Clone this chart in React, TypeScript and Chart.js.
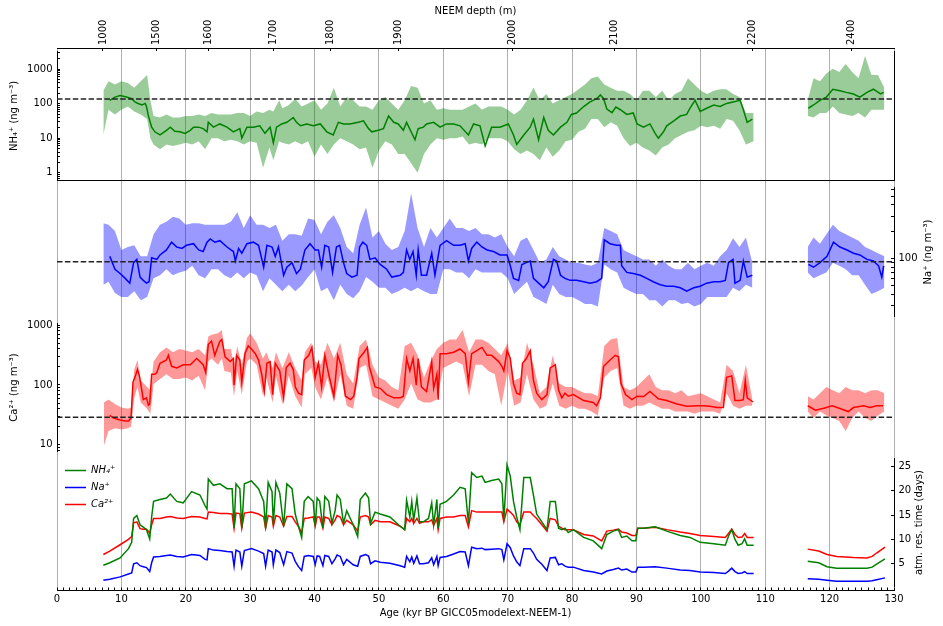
import React, { useEffect, useRef } from "react";
import { Chart, registerables } from "chart.js";

Chart.register(...registerables);

const FONT = '"DejaVu Sans", sans-serif';
Chart.defaults.font.family = FONT;
Chart.defaults.font.size = 10;
Chart.defaults.color = "#000";

// ---------------- axis labels ----------------
const ageMajorTicks = [0, 10, 20, 30, 40, 50, 60, 70, 80, 90, 100, 110, 120, 130];
const depthLabels = ["1000", "1500", "1600", "1700", "1800", "1900", "2000", "2100", "2200", "2400"];
const depthAges = [7.14, 15.49, 23.56, 33.6, 42.51, 53.01, 70.67, 86.6, 108.06, 123.44];
const resTicks = [5, 10, 15, 20, 25];

// ---------------- means (dashed lines) ----------------
const meanNH4 = 137;
const meanNa = 92;
const meanCa = 29;

// ---------------- NH4+ ----------------
const nh4Ages = [
  8.2, 9.0, 9.8, 10.8, 11.6, 12.1, 12.6, 13.2, 13.7, 13.9,
  14.2, 14.7, 15.2, 16.0, 17.0, 17.6, 18.3, 19.1, 19.9, 20.7,
  21.2, 22.0, 22.7, 23.3, 23.5, 24.3, 25.3, 26.4, 27.4, 28.4,
  28.7, 29.5, 30.5, 31.5, 32.3, 33.1, 33.6, 34.1, 34.9, 35.7,
  36.7, 37.2, 37.8, 38.8, 39.8, 40.9, 41.9, 42.9, 43.7, 44.5,
  45.5, 46.8, 47.6, 48.4, 48.9, 49.9, 50.7, 51.5, 52.3, 53.0,
  53.8, 54.3, 55.6, 56.1, 56.9, 57.4, 58.5, 59.5, 60.5, 61.6,
  62.6, 63.9, 64.7, 65.7, 66.5, 67.5, 68.8, 70.1, 70.9, 71.4,
  72.5, 73.5, 74.0, 74.8, 75.6, 76.3, 77.1, 78.2, 79.2, 79.9,
  80.7, 81.8, 82.8, 83.8, 84.4, 84.9, 85.4, 86.2, 86.8, 87.5,
  88.5, 89.5, 90.1, 91.1, 92.1, 92.9, 93.4, 94.2, 94.7, 95.8,
  96.8, 97.8, 98.3, 99.1, 99.9, 100.9, 102.0, 103.0, 104.0, 105.0,
  106.1, 106.6, 107.2, 108.0, 112, 116.7, 117.5, 118.5, 119.5, 120.5,
  121.6, 122.6, 123.7, 124.7, 125.8, 126.8, 127.9, 128.4,
];
const nh4Line = [
  126, 156, 173, 156, 140, 113, 102, 92, 102, 83,
  44, 21, 15.4, 12.5, 17, 21, 16, 15.4, 13.9, 17,
  21, 21, 19, 15.4, 29, 21, 26, 21, 15.4, 19,
  10.1, 21, 21, 23, 13.9, 21, 7.4, 21, 26, 29,
  40, 29, 23, 26, 23, 26, 15.4, 12.5, 29, 26,
  26, 29, 32, 19, 15.4, 17, 19, 44, 29, 26,
  17, 29, 9.1, 19, 21, 26, 29, 21, 26, 26,
  23, 12.5, 26, 23, 6.0, 21, 21, 26, 12.5, 6.6,
  12.5, 21, 36, 9.1, 40, 17, 12.5, 21, 29, 49,
  54, 83, 113, 140, 180, 140, 70, 55, 80, 67,
  49, 54, 26, 21, 26, 13.9, 10.1, 15.4, 23, 32,
  44, 49, 74, 126, 60, 74, 92, 83, 102, 113,
  126, 67, 29, 36, null, 74, 92, 126, 156, 263,
  237, 213, 192, 156, 213, 263, 192, 213,
];
const nh4BandAges = [
  7.2, 8, 9, 10, 11, 12, 13, 14, 14.5, 15,
  16, 17, 18, 19, 20, 21, 22, 23, 24, 25,
  26, 27, 28, 29, 30, 31, 32, 33, 33.6, 34.5,
  35, 36, 37, 38, 39, 40, 41, 42, 43, 44,
  45, 46, 47, 48, 49, 50, 51, 52, 53, 54,
  55, 56, 57, 58, 59, 60, 61, 62, 63, 64,
  65, 66, 67, 68, 69, 70, 71, 72, 73, 74,
  75, 76, 77, 78, 79, 80, 81, 82, 83, 84,
  85, 86, 87, 88, 89, 90, 91, 92, 93, 94,
  95, 96, 97, 98, 99, 100, 101, 102, 103, 104,
  105, 106, 107, 108.2, 112, 116.6, 117.5, 118.5, 119.5, 120.5,
  121.5, 122.5, 123.5, 124.5, 125.5, 126.5, 127.5, 128.5,
];
const nh4Hi = [
  237, 445, 361, 445, 401, 292, 445, 678, 126, 44,
  40, 49, 40, 40, 44, 44, 49, 44, 54, 49,
  49, 49, 54, 54, 44, 60, 54, 67, 60, 126,
  74, 92, 140, 83, 102, 126, 67, 102, 292, 83,
  156, 126, 83, 83, 67, 126, 156, 102, 67, 126,
  325, 292, 102, 126, 67, 74, 67, 67, 67, 83,
  102, 67, 83, 83, 83, 67, 49, 67, 126, 292,
  126, 192, 102, 126, 156, 192, 263, 361, 549, 610,
  361, 292, 237, 237, 192, 126, 237, 237, 156, 237,
  126, 192, 237, 549, 361, 237, 192, 237, 263, 263,
  192, 156, 54, 54, null, 126, 549, 445, 753, 1033,
  836, 1416, 836, 549, 2393, 678, 678, 292,
];
const nh4Lo = [
  12.5, 67, 49, 67, 83, 60, 49, 36, 10.1, 6.6,
  4.8, 6.6, 6.0, 6.6, 7.4, 6.6, 8.2, 4.8, 10.1, 10.1,
  8.2, 9.1, 8.2, 6.6, 8.2, 7.4, 1.4, 5.4, 2.3, 8.2,
  7.4, 6.6, 8.2, 6.6, 8.2, 2.9, 6.6, 3.5, 6.6, 10.1,
  8.2, 6.6, 4.8, 5.4, 1.4, 4.4, 8.2, 6.6, 3.5, 3.5,
  1.9, 1.0, 3.5, 6.6, 10.1, 9.1, 10.1, 10.1, 11.2, 6.6,
  7.4, 6.6, 10.1, 10.1, 10.1, 8.2, 4.8, 3.5, 4.4, 3.5,
  2.3, 5.4, 2.9, 4.4, 8.2, 9.1, 15.4, 19, 36, 36,
  21, 29, 23, 10.1, 6.0, 7.4, 5.4, 4.4, 3.2, 5.4,
  6.6, 10.1, 12.5, 15.4, 17, 23, 21, 23, 19, 36,
  32, 17, 6.6, 8.2, null, 44, 40, 54, 54, 83,
  54, 49, 44, 54, 40, 67, 67, 67,
];

// ---------------- Na+ ----------------
const naAges = [
  8.2, 9.0, 9.8, 10.6, 11.3, 11.9, 12.4, 12.9, 13.4, 13.9,
  14.3, 14.7, 15.5, 16.0, 17.0, 17.8, 18.6, 19.4, 20.1, 21.2,
  22.0, 22.7, 23.3, 23.8, 24.5, 25.3, 26.4, 27.4, 27.7, 28.2,
  28.7, 29.5, 30.5, 31.3, 32.1, 32.6, 33.4, 33.9, 34.4, 35.2,
  35.7, 36.5, 37.2, 37.8, 38.5, 39.3, 40.1, 40.6, 41.1, 41.6,
  42.2, 42.8, 43.4, 43.9, 44.5, 45.0, 45.8, 46.6, 47.0, 47.5,
  48.1, 48.6, 49.4, 50.2, 51.2, 52.0, 53.3, 53.8, 54.3, 54.8,
  55.3, 55.8, 56.1, 56.6, 57.4, 58.2, 58.7, 59.2, 59.5, 60.5,
  61.6, 62.6, 63.4, 63.9, 64.4, 65.2, 66.0, 66.8, 67.8, 68.8,
  69.9, 70.4, 70.9, 71.7, 72.2, 72.9, 73.5, 74.0, 74.8, 75.6,
  76.3, 77.1, 77.6, 78.2, 78.9, 79.7, 80.7, 81.8, 82.8, 83.8,
  84.6, 85.0, 85.9, 86.9, 87.5, 87.7, 88.5, 89.5, 90.6, 91.6,
  92.6, 93.7, 94.7, 95.8, 96.8, 97.8, 98.9, 99.9, 100.9, 102.0,
  103.0, 103.8, 104.3, 105.0, 105.3, 106.1, 106.6, 107.2, 108.0, 112,
  116.7, 117.5, 118.5, 119.6, 120.6, 121.6, 122.7, 123.7, 124.7, 125.8,
  126.8, 127.6, 128.1, 128.4,
];
const naLine = [
  106, 76, 68, 60, 53, 90, 98, 62, 57, 53,
  55, 102, 98, 110, 125, 153, 135, 130, 141, 147,
  125, 120, 153, 166, 153, 159, 135, 120, 94, 130,
  115, 147, 153, 141, 80, 141, 135, 106, 135, 65,
  80, 90, 68, 76, 125, 147, 125, 125, 80, 141,
  135, 70, 135, 141, 90, 68, 62, 65, 135, 153,
  141, 98, 102, 86, 76, 62, 65, 70, 125, 98,
  120, 65, 125, 65, 65, 115, 65, 106, 141, 159,
  141, 141, 147, 94, 130, 153, 135, 125, 120, 110,
  110, 83, 60, 57, 86, 90, 94, 60, 53, 47,
  55, 98, 94, 65, 60, 57, 57, 55, 53, 55,
  60, 162, 147, 141, 141, 83, 70, 68, 65, 60,
  55, 51, 49, 49, 47, 43, 47, 49, 53, 55,
  55, 57, 90, 98, 53, 57, 94, 62, 65, null,
  86, 80, 90, 106, 153, 135, 125, 115, 110, 98,
  94, 83, 62, 83,
];
const naBandAges = [
  7.2, 8, 9, 10, 11, 12, 13, 14, 15, 16,
  17, 18, 19, 20, 21, 22, 23, 24, 25, 26,
  27, 28, 29, 30, 31, 32, 33, 34, 35, 36,
  37, 38, 39, 40, 41, 42, 43, 44, 45, 46,
  47, 48, 49, 50, 51, 52, 53, 54, 55, 56,
  57, 58, 59, 60, 61, 62, 63, 64, 65, 66,
  67, 68, 69, 70, 71, 72, 73, 74, 75, 76,
  77, 78, 79, 80, 81, 82, 83, 84, 85, 86,
  87, 88, 89, 90, 91, 92, 93, 94, 95, 96,
  97, 98, 99, 100, 101, 102, 103, 104, 105, 106,
  107, 108, 112, 116.6, 117.5, 118.5, 119.5, 120.5, 121.5, 122.5,
  123.5, 124.5, 125.5, 126.5, 127.5, 128.5,
];
const naHi = [
  250, 240, 204, 125, 135, 141, 106, 106, 188, 240,
  260, 294, 282, 240, 250, 250, 240, 240, 240, 240,
  260, 332, 221, 306, 240, 240, 221, 240, 159, 188,
  188, 180, 282, 271, 188, 260, 306, 221, 135, 115,
  240, 375, 173, 204, 147, 125, 135, 204, 542, 221,
  135, 221, 173, 221, 282, 221, 221, 204, 221, 188,
  188, 173, 188, 135, 106, 159, 173, 125, 90, 98,
  135, 106, 98, 90, 90, 86, 83, 90, 221, 204,
  188, 125, 115, 106, 98, 98, 83, 98, 83, 76,
  76, 90, 76, 83, 90, 83, 106, 125, 169, 135,
  173, 90, null, 135, 173, 147, 188, 240, 204, 188,
  173, 159, 135, 125, 115, 106,
];
const naLo = [
  51, 55, 41, 37, 37, 43, 34, 37, 60, 65,
  76, 65, 70, 73, 83, 65, 60, 76, 76, 65,
  60, 70, 60, 70, 65, 43, 60, 51, 43, 51,
  43, 50, 62, 76, 43, 47, 34, 51, 40, 36,
  43, 62, 55, 47, 47, 40, 43, 47, 43, 47,
  43, 40, 40, 76, 76, 70, 70, 60, 76, 70,
  70, 70, 70, 60, 40, 47, 55, 37, 34, 31,
  51, 40, 37, 37, 34, 31, 31, 29, 86, 76,
  70, 47, 43, 40, 40, 34, 34, 29, 34, 34,
  31, 32, 29, 31, 37, 37, 37, 37, 47, 43,
  51, 47, null, 70, 60, 65, 70, 90, 83, 76,
  65, 65, 51, 40, 43, 47,
];

// ---------------- Ca2+ ----------------
const caAges = [
  8.2, 8.8, 9.8, 10.6, 11.1, 11.5, 11.8, 12.1, 12.5, 12.8,
  13.2, 13.4, 13.9, 14.2, 14.4, 14.7, 15.2, 15.5, 16.0, 17.0,
  17.3, 17.8, 18.6, 19.6, 20.7, 21.7, 22.7, 23.1, 23.5, 24.0,
  24.5, 25.3, 25.6, 26.1, 26.9, 27.4, 27.5, 27.9, 28.4, 28.7,
  29.2, 29.7, 30.2, 30.8, 31.3, 31.8, 32.2, 32.6, 33.1, 33.5,
  33.9, 34.6, 35.2, 35.6, 36.2, 36.7, 37.0, 37.5, 38.0, 38.4,
  39.1, 39.6, 40.1, 40.6, 41.1, 41.6, 42.2, 43.0, 43.6, 44.1,
  44.8, 45.6, 46.1, 46.6, 46.9, 47.7, 48.2, 48.5, 49.4, 50.2,
  51.2, 52.3, 53.3, 53.8, 54.3, 54.8, 55.3, 55.8, 56.1, 56.6,
  57.4, 58.2, 58.5, 59.0, 59.2, 59.5, 60.5, 61.6, 62.6, 63.4,
  63.9, 64.4, 65.2, 66.0, 66.8, 67.5, 68.6, 69.1, 69.4, 69.9,
  70.4, 70.9, 71.4, 71.9, 72.3, 72.9, 73.5, 74.0, 74.5, 75.3,
  76.1, 76.6, 77.4, 77.9, 78.4, 78.9, 79.4, 80.2, 81.8, 83.3,
  83.8, 84.4, 84.9, 85.9, 86.7, 87.2, 87.6, 88.3, 89.3, 90.1,
  91.1, 92.1, 93.4, 94.7, 96.3, 97.8, 99.4, 100.4, 101.4, 102.5,
  103.5, 104.0, 104.8, 105.3, 106.1, 106.6, 106.9, 107.2, 108.1, 112,
  116.6, 117.8, 119.1, 120.4, 121.7, 122.9, 123.7, 125.3, 126.3, 127.3,
  128.3,
];
const caLine = [
  31, 28, 26, 25, 25, 28, 112, 134, 181, 142,
  78, 57, 61, 46, 48, 151, 151, 161, 231, 261,
  313, 205, 193, 218, 218, 277, 218, 161, 478, 540,
  313, 540, 574, 295, 246, 277, 99, 313, 261, 112,
  333, 450, 399, 333, 261, 151, 78, 231, 246, 69,
  231, 171, 61, 193, 231, 181, 93, 73, 69, 261,
  313, 424, 134, 231, 93, 313, 151, 65, 313, 218,
  65, 57, 65, 134, 277, 353, 424, 205, 93, 88,
  69, 61, 61, 65, 277, 171, 277, 99, 277, 93,
  78, 246, 88, 151, 57, 333, 333, 353, 399, 333,
  112, 333, 376, 424, 313, 313, 246, 205, 171, 376,
  277, 105, 73, 69, 231, 277, 376, 119, 73, 57,
  69, 193, 218, 82, 61, 73, 65, 69, 55, 51,
  45, 61, 205, 261, 313, 295, 106, 69, 57, 65,
  64, 78, 59, 55, 48, 44, 45, 45, 44, 42,
  42, 134, 142, 55, 55, 57, 119, 61, 52, null,
  45, 38, 41, 45, 40, 36, 42, 45, 42, 45,
  45,
];
const caBandAges = [
  7.3, 8, 9, 10, 11, 11.5, 12, 12.5, 13, 14,
  14.5, 15, 16, 17, 18, 19, 20, 21, 22, 23,
  23.5, 24, 25, 25.6, 26, 27, 27.5, 28, 28.7, 29.5,
  30, 31, 32, 32.5, 33.5, 34, 35, 36, 37, 38,
  38.5, 39.5, 40.1, 41, 42, 43, 44, 45, 46, 47,
  48, 49, 50, 51, 52, 53, 54, 55, 56, 57,
  58, 59, 60, 61, 62, 63, 64, 65, 66, 67,
  68, 69, 70, 71, 72, 73, 74, 75, 76, 77,
  78, 79, 80, 81, 82, 83, 84, 85, 86, 87,
  88, 89, 90, 91, 92, 93, 94, 95, 96, 97,
  98, 99, 100, 101, 102, 103, 104, 105, 106, 107,
  108, 112, 116.6, 117.5, 118.5, 119.5, 120.5, 121.5, 122.5, 123.5,
  124.5, 125.5, 126.5, 127.5, 128.5,
];
const caHi = [
  51, 57, 48, 42, 40, 42, 181, 261, 119, 93,
  82, 246, 353, 424, 353, 399, 376, 353, 399, 313,
  648, 689, 732, 826, 399, 399, 218, 450, 218, 610,
  732, 508, 277, 353, 193, 353, 193, 353, 193, 119,
  353, 508, 246, 218, 508, 277, 508, 151, 106, 450,
  574, 218, 134, 119, 93, 82, 450, 508, 313, 134,
  246, 399, 508, 574, 574, 826, 353, 574, 574, 508,
  399, 313, 508, 119, 134, 508, 218, 73, 93, 313,
  106, 93, 93, 82, 73, 73, 65, 450, 574, 610,
  93, 82, 93, 119, 151, 93, 82, 82, 73, 82,
  65, 69, 73, 65, 57, 51, 218, 171, 73, 218,
  57, null, 65, 57, 73, 93, 82, 73, 93, 82,
  82, 73, 82, 82, 73,
];
const caLo = [
  9.9, 17, 19, 18, 19, 20, 61, 93, 51, 40,
  33, 104, 126, 151, 126, 126, 134, 119, 142, 82,
  246, 277, 218, 277, 171, 161, 65, 171, 69, 246,
  277, 218, 65, 134, 51, 142, 48, 142, 65, 42,
  151, 193, 93, 57, 134, 51, 151, 45, 40, 193,
  218, 65, 57, 51, 45, 40, 57, 106, 57, 51,
  51, 57, 193, 218, 246, 218, 65, 218, 218, 171,
  151, 45, 171, 45, 51, 151, 57, 40, 45, 106,
  45, 40, 45, 40, 40, 36, 31, 134, 171, 193,
  45, 40, 45, 45, 51, 45, 40, 40, 36, 36,
  36, 33, 36, 36, 36, 33, 73, 45, 40, 45,
  45, null, 36, 28, 36, 31, 28, 25, 17, 28,
  36, 28, 25, 31, 36,
];

// ---------------- atmospheric residence time (days) ----------------
const resAges = [
  7.2, 8.2, 9.8, 11.1, 11.6, 11.9, 12.4, 12.9, 13.4, 13.9,
  14.4, 14.7, 15.0, 16.0, 17.0, 17.6, 18.6, 19.6, 20.9, 22.2,
  23.0, 23.3, 23.5, 24.3, 25.3, 26.4, 27.2, 27.5, 27.8, 28.4,
  28.7, 29.1, 30.2, 31.3, 32.1, 32.4, 32.8, 33.4, 33.6, 34.0,
  34.6, 35.2, 35.7, 36.5, 37.0, 37.5, 38.0, 38.4, 39.0, 39.8,
  40.1, 40.4, 40.8, 41.3, 41.6, 42.2, 42.7, 43.2, 43.5, 44.0,
  44.5, 45.0, 46.0, 46.7, 47.1, 47.9, 48.4, 48.7, 49.4, 50.2,
  51.7, 53.3, 54.0, 54.3, 54.8, 55.1, 55.4, 55.9, 56.3, 56.9,
  57.7, 58.2, 58.5, 59.0, 59.2, 59.5, 60.5, 61.6, 62.6, 63.4,
  63.9, 64.4, 65.2, 66.0, 66.5, 67.5, 68.6, 69.1, 69.4, 69.9,
  70.4, 70.9, 71.4, 71.9, 72.5, 73.5, 74.0, 74.5, 75.3, 76.1,
  76.6, 77.4, 77.9, 78.4, 78.9, 79.4, 80.2, 81.8, 83.3, 84.6,
  85.4, 86.4, 87.2, 87.7, 88.5, 89.3, 89.9, 90.2, 91.1, 92.9,
  94.7, 96.8, 98.3, 99.9, 102.0, 103.8, 104.3, 104.8, 105.3, 105.8,
  106.4, 106.8, 107.2, 108.2, 112, 116.6, 118.3, 119.6, 121.1, 123.7,
  125.8, 126.6, 127.3, 128.6,
];
const resNH4 = [
  4.7, 5.2, 6.2, 8.1, 9.4, 14.3, 14.9, 13.0, 12.5, 12.0,
  10.1, 14.6, 17.8, 18.2, 18.5, 19.3, 17.8, 17.5, 19.8, 19.1,
  16.9, 16.2, 22.4, 21.1, 21.4, 20.4, 20.4, 12.3, 21.4, 20.4,
  12.3, 21.4, 22.0, 20.4, 17.8, 12.3, 21.7, 19.8, 13.0, 21.7,
  19.5, 12.7, 21.4, 20.4, 15.2, 12.7, 10.4, 17.8, 18.8, 17.8,
  12.7, 18.5, 17.8, 12.3, 18.8, 17.8, 13.3, 15.9, 19.1, 18.2,
  13.3, 15.9, 13.0, 10.6, 18.2, 19.5, 18.5, 13.3, 15.6, 15.2,
  14.6, 12.7, 12.0, 18.0, 14.6, 17.8, 13.9, 18.5, 13.6, 13.6,
  14.3, 17.5, 13.0, 18.2, 12.3, 17.2, 17.8, 19.1, 20.7, 20.4,
  13.3, 23.7, 22.7, 23.0, 21.7, 22.1, 22.4, 21.4, 13.9, 25.3,
  23.0, 17.8, 14.6, 12.0, 22.7, 22.7, 19.1, 15.2, 13.6, 12.0,
  17.8, 17.8, 12.3, 12.0, 12.3, 11.4, 12.0, 10.4, 9.7, 8.1,
  11.0, 11.7, 12.0, 10.4, 10.7, 9.7, 9.7, 12.3, 12.3, 12.6,
  11.7, 10.8, 10.4, 9.4, 9.1, 8.8, 10.7, 12.0, 10.0, 8.8,
  9.1, 10.1, 8.8, 8.8, null, 5.5, 5.2, 4.4, 4.1, 4.1,
  4.1, 4.3, 4.9, 6.0,
];
const resNa = [
  1.6, 1.8, 2.3, 2.9, 3.1, 5.0, 5.2, 4.6, 4.4, 4.2,
  3.4, 5.2, 6.4, 6.5, 6.7, 6.8, 6.5, 6.4, 6.9, 6.7,
  5.9, 5.8, 8.1, 7.8, 7.7, 7.5, 7.4, 4.5, 7.8, 7.4,
  4.5, 7.7, 8.1, 7.6, 7.1, 4.5, 7.8, 7.4, 4.8, 7.8,
  7.3, 4.8, 7.5, 7.2, 5.5, 4.4, 3.6, 6.5, 6.7, 6.5,
  4.8, 6.6, 6.5, 4.6, 6.7, 6.5, 5.0, 6.0, 6.8, 6.5,
  4.8, 5.9, 4.8, 4.5, 6.5, 6.9, 6.6, 5.0, 5.6, 5.3,
  5.1, 4.6, 4.3, 6.5, 5.4, 6.4, 5.1, 6.6, 5.0, 5.0,
  5.2, 6.2, 4.8, 6.5, 4.6, 6.3, 6.5, 7.0, 7.5, 7.4,
  4.6, 8.4, 8.1, 8.2, 7.9, 8.0, 8.1, 7.9, 5.8, 9.1,
  8.3, 6.6, 5.4, 4.6, 8.1, 8.1, 7.2, 5.9, 4.9, 3.6,
  6.2, 6.3, 4.8, 5.0, 4.5, 4.3, 4.3, 3.6, 3.3, 2.9,
  3.5, 3.8, 4.1, 3.7, 3.9, 3.3, 3.3, 4.3, 4.3, 4.4,
  4.1, 3.7, 3.6, 3.3, 3.2, 3.0, 3.5, 4.1, 3.4, 3.0,
  3.1, 3.4, 3.0, 3.0, null, 1.9, 1.8, 1.6, 1.4, 1.4,
  1.4, 1.5, 1.7, 2.1,
];
const resCa = [
  6.9, 7.6, 8.9, 10.0, 10.6, 13.4, 13.6, 12.2, 12.1, 12.1,
  11.3, 13.0, 14.3, 14.3, 14.6, 14.7, 14.4, 14.3, 14.7, 14.6,
  14.3, 14.2, 15.6, 15.5, 15.3, 15.3, 15.2, 12.3, 15.4, 15.3,
  12.3, 15.4, 15.6, 15.2, 14.6, 12.3, 14.9, 14.6, 12.7, 14.9,
  14.6, 12.7, 14.7, 14.7, 13.6, 12.7, 11.3, 14.3, 14.4, 14.6,
  12.7, 14.6, 14.6, 12.3, 14.6, 14.3, 13.0, 14.0, 14.9, 14.6,
  13.0, 13.9, 13.0, 11.7, 14.6, 14.9, 14.6, 13.0, 13.9, 13.6,
  13.6, 12.7, 12.0, 14.3, 13.6, 14.3, 13.3, 14.3, 13.3, 13.6,
  13.6, 14.0, 12.9, 14.3, 12.0, 14.3, 14.6, 14.6, 14.9, 14.9,
  12.6, 15.9, 15.6, 15.6, 15.6, 15.6, 15.6, 15.6, 13.6, 16.2,
  15.6, 14.9, 13.6, 13.0, 15.6, 15.6, 14.9, 14.3, 13.0, 11.7,
  14.3, 14.0, 12.7, 12.3, 12.0, 12.0, 12.0, 11.0, 10.7, 9.7,
  11.7, 11.9, 12.1, 11.5, 11.3, 10.8, 10.8, 12.3, 12.3, 12.5,
  12.0, 11.5, 11.2, 10.8, 10.6, 10.4, 11.2, 12.1, 11.0, 10.4,
  10.5, 11.2, 10.4, 10.4, null, 8.0, 7.6, 6.9, 6.5, 6.3,
  6.2, 6.5, 7.2, 8.4,
];

// ---------------- helpers ----------------
const GREEN = "#008000";
const BLUE = "#0000ff";
const RED = "#ff0000";
const GREEN_L = "rgba(0,128,0,0.4)";
const BLUE_L = "rgba(0,0,255,0.4)";
const RED_L = "rgba(255,0,0,0.4)";
const GRID = "#b0b0b0";

const X_MIN = 0;
const X_MAX = 130;
const LEFT_W = 57;
const RIGHT_W = 49;

function pts(xs: number[], ys: (number | null)[]) {
  return xs.map((x, i) => ({ x, y: ys[i] }));
}

function logTickValues(min: number, max: number) {
  const out: number[] = [];
  for (let e = -2; e <= 4; e++) {
    for (let m = 1; m <= 9; m++) {
      const v = parseFloat((m * Math.pow(10, e)).toPrecision(4));
      if (v >= min && v <= max) out.push(v);
    }
  }
  return out;
}
const isDecade = (v: number) => Math.abs(Math.log10(v) - Math.round(Math.log10(v))) < 1e-6;

function lineDs(xs: number[], ys: (number | null)[], color: string, label = "", order = 1) {
  return {
    label,
    data: pts(xs, ys),
    borderColor: color,
    backgroundColor: color,
    borderWidth: 1.5,
    pointRadius: 0,
    fill: false,
    spanGaps: false,
    tension: 0,
    order,
  };
}
function meanDs(v: number) {
  return {
    data: [{ x: X_MIN, y: v }, { x: X_MAX, y: v }],
    borderColor: "#222222",
    borderDash: [5.5, 2.4],
    borderWidth: 1.5,
    pointRadius: 0,
    fill: false,
    order: 0,
  };
}
function bandDs(xs: number[], hi: (number | null)[], lo: (number | null)[], color: string) {
  return [
    { data: pts(xs, hi), borderColor: "rgba(0,0,0,0)", borderWidth: 0, backgroundColor: color, fill: "+1", pointRadius: 0, spanGaps: false, tension: 0, order: 3 },
    { data: pts(xs, lo), borderColor: "rgba(0,0,0,0)", borderWidth: 0, backgroundColor: color, fill: false, pointRadius: 0, spanGaps: false, tension: 0, order: 3 },
  ];
}

function hiddenX(border = false) {
  return {
    type: "linear",
    min: X_MIN,
    max: X_MAX,
    display: border,
    ticks: { display: false },
    grid: { display: true, drawOnChartArea: false, drawTicks: false, color: "rgba(0,0,0,0)" },
    border: { display: border, color: "#000", width: 1 },
    afterFit: (s: any) => { s.height = 0; },
  };
}

function logAxis(position: string, min: number, max: number, title?: string) {
  return {
    type: "logarithmic",
    position,
    min,
    max,
    afterBuildTicks: (s: any) => {
      s.ticks = logTickValues(min, max).map((v) => ({ value: v }));
    },
    afterFit: (s: any) => { s.width = position === "left" ? LEFT_W : RIGHT_W; },
    ticks: {
      autoSkip: false,
      padding: 7.5,
      color: "#000",
      font: { family: FONT, size: 10 },
      callback: (v: any) => (isDecade(Number(v)) ? String(Math.round(Number(v) * 1000) / 1000) : ""),
    },
    grid: { drawOnChartArea: false, tickLength: -3, tickColor: "#000", tickWidth: 1, color: "rgba(0,0,0,0)" },
    border: { display: true, color: "#000", width: 1 },
    title: title
      ? { display: true, text: title, color: "#000", font: { family: FONT, size: 10 }, padding: { top: 8.5, bottom: 0 } }
      : { display: false },
  };
}

function rightTitle(text: string, dx: number) {
  return {
    id: "rightTitle",
    afterDraw(chart: any) {
      const s = chart.scales.y;
      const a = chart.chartArea;
      const ctx = chart.ctx;
      ctx.save();
      ctx.translate(s.left + dx, (a.top + a.bottom) / 2);
      ctx.rotate(-Math.PI / 2);
      ctx.font = `10px ${FONT}`;
      ctx.fillStyle = "#000";
      ctx.textAlign = "center";
      ctx.textBaseline = "middle";
      ctx.fillText(text, 0, 0);
      ctx.restore();
    },
  };
}

const legendPlace = {
  id: "legendPlace",
  beforeDraw(chart: any) {
    const lg = chart.legend;
    if (!lg) return;
    const w = lg.width;
    const h = lg.height;
    lg.left = 58;
    lg.right = 58 + w;
    lg.top = 13.5;
    lg.bottom = 13.5 + h;
  },
};

const common = {
  responsive: false,
  animation: false,
  events: [],
  maintainAspectRatio: false,
};

// ---------------- chart configs ----------------
function baseConfig(): any {
  const allTicks: number[] = [];
  for (let i = 0; i < ageMajorTicks.length - 1; i++) {
    for (let k = 0; k < 10; k++) allTicks.push(ageMajorTicks[i] + k);
  }
  allTicks.push(ageMajorTicks[ageMajorTicks.length - 1]);
  return {
    type: "line",
    data: { datasets: [] },
    options: {
      ...common,
      layout: { padding: { left: LEFT_W, right: RIGHT_W, top: 0, bottom: 0 } },
      plugins: { legend: { display: false }, tooltip: { enabled: false } },
      scales: {
        x: {
          type: "linear",
          position: "bottom",
          min: X_MIN,
          max: X_MAX,
          afterBuildTicks: (s: any) => { s.ticks = allTicks.map((v) => ({ value: v })); },
          afterFit: (s: any) => { s.height = 36; },
          ticks: {
            autoSkip: false,
            maxRotation: 0,
            padding: 6,
            color: "#000",
            font: { family: FONT, size: 10 },
            callback: (v: any) => (ageMajorTicks.includes(Number(v)) ? String(v) : ""),
          },
          grid: {
            drawOnChartArea: true,
            tickLength: -2.5,
            tickColor: "#000",
            lineWidth: 1,
            color: (ctx: any) => (ctx.tick && ageMajorTicks.includes(ctx.tick.value) ? GRID : "rgba(0,0,0,0)"),
          },
          border: { display: true, color: "#000", width: 1 },
          title: {
            display: true,
            text: "Age (kyr BP GICC05modelext-NEEM-1)",
            color: "#000",
            font: { family: FONT, size: 10 },
            padding: { top: 0, bottom: 7 },
          },
        },
        x2: {
          type: "linear",
          axis: "x",
          position: "top",
          min: X_MIN,
          max: X_MAX,
          afterBuildTicks: (s: any) => { s.ticks = depthAges.map((v) => ({ value: v })); },
          afterFit: (s: any) => { s.height = 48; },
          ticks: {
            autoSkip: false,
            minRotation: 90,
            maxRotation: 90,
            padding: 6,
            labelOffset: 12,
            color: "#000",
            font: { family: FONT, size: 10 },
            callback: (_v: any, i: number) => depthLabels[i],
          },
          grid: { drawOnChartArea: false, tickLength: -3, tickColor: "#000", color: "rgba(0,0,0,0)" },
          border: { display: true, color: "#000", width: 1 },
          title: {
            display: true,
            text: "NEEM depth (m)",
            color: "#000",
            font: { family: FONT, size: 10 },
            padding: { top: 5, bottom: 0 },
          },
        },
        y: { display: false, min: 0, max: 1 },
      },
    },
  };
}

function nh4Config(): any {
  const min = 0.631, max = 3251;
  return {
    type: "line",
    data: {
      datasets: [
        ...bandDs(nh4BandAges, nh4Hi, nh4Lo, GREEN_L),
        lineDs(nh4Ages, nh4Line, GREEN),
        meanDs(meanNH4),
      ],
    },
    options: {
      ...common,
      layout: { padding: { left: 0, right: 0, top: 10, bottom: 10 } },
      plugins: { legend: { display: false }, tooltip: { enabled: false } },
      scales: {
        x: hiddenX(true),
        y: logAxis("left", min, max, "NH\u2084\u207A (ng m\u207B\u00B3)"),
        yr: {
          type: "logarithmic",
          position: "right",
          min,
          max,
          ticks: { display: false },
          grid: { display: true, drawOnChartArea: false, drawTicks: false, color: "rgba(0,0,0,0)" },
          border: { display: true, color: "#000", width: 1 },
          afterFit: (s: any) => { s.width = RIGHT_W; },
        },
      },
    },
  };
}

function naConfig(): any {
  const min = 22.4, max = 628;
  return {
    type: "line",
    data: {
      datasets: [
        ...bandDs(naBandAges, naHi, naLo, BLUE_L),
        lineDs(naAges, naLine, BLUE),
        meanDs(meanNa),
      ],
    },
    options: {
      ...common,
      layout: { padding: { left: LEFT_W, right: 0, top: 10, bottom: 10 } },
      plugins: { legend: { display: false }, tooltip: { enabled: false } },
      scales: {
        x: hiddenX(false),
        y: logAxis("right", min, max),
      },
    },
    plugins: [rightTitle("Na\u207A (ng m\u207B\u00B3)", 34)],
  };
}

function caConfig(): any {
  const min = 7.75, max = 1064;
  return {
    type: "line",
    data: {
      datasets: [
        ...bandDs(caBandAges, caHi, caLo, RED_L),
        lineDs(caAges, caLine, RED),
        meanDs(meanCa),
      ],
    },
    options: {
      ...common,
      layout: { padding: { left: 0, right: RIGHT_W, top: 10, bottom: 10 } },
      plugins: { legend: { display: false }, tooltip: { enabled: false } },
      scales: {
        x: hiddenX(false),
        y: logAxis("left", min, max, "Ca\u00B2\u207A (ng m\u207B\u00B3)"),
      },
    },
  };
}

function resConfig(): any {
  return {
    type: "line",
    data: {
      datasets: [
        lineDs(resAges, resNH4, GREEN, "NH\u2084\u207A", 1),
        lineDs(resAges, resNa, BLUE, "Na\u207A", 1),
        lineDs(resAges, resCa, RED, "Ca\u00B2\u207A", 1),
      ],
    },
    options: {
      ...common,
      layout: { padding: { left: LEFT_W, right: 0, top: 10, bottom: 10 } },
      plugins: {
        tooltip: { enabled: false },
        legend: {
          display: true,
          position: "chartArea",
          align: "start",
          fullSize: false,
          labels: {
            usePointStyle: true,
            pointStyle: "line",
            pointStyleWidth: 21,
            padding: 7,
            color: "#000",
            font: { family: FONT, size: 10, style: "italic" },
          },
        },
      },
      scales: {
        x: hiddenX(false),
        y: {
          type: "linear",
          position: "right",
          min: 0.33,
          max: 26.6,
          afterBuildTicks: (s: any) => { s.ticks = resTicks.map((v) => ({ value: v })); },
          afterFit: (s: any) => { s.width = RIGHT_W; },
          ticks: { autoSkip: false, padding: 7.5, color: "#000", font: { family: FONT, size: 10 } },
          grid: { drawOnChartArea: false, tickLength: -3, tickColor: "#000", color: "rgba(0,0,0,0)" },
          border: { display: true, color: "#000", width: 1 },
        },
      },
    },
    plugins: [legendPlace, rightTitle("atm. res. time (days)", 25)],
  };
}

// ---------------- component ----------------
export default function App() {
  const baseRef = useRef<HTMLCanvasElement>(null);
  const nh4Ref = useRef<HTMLCanvasElement>(null);
  const naRef = useRef<HTMLCanvasElement>(null);
  const caRef = useRef<HTMLCanvasElement>(null);
  const resRef = useRef<HTMLCanvasElement>(null);

  useEffect(() => {
    const charts: Chart[] = [];
    charts.push(new Chart(baseRef.current as HTMLCanvasElement, baseConfig()));
    charts.push(new Chart(nh4Ref.current as HTMLCanvasElement, nh4Config()));
    charts.push(new Chart(naRef.current as HTMLCanvasElement, naConfig()));
    charts.push(new Chart(caRef.current as HTMLCanvasElement, caConfig()));
    charts.push(new Chart(resRef.current as HTMLCanvasElement, resConfig()));
    return () => charts.forEach((c) => c.destroy());
  }, []);

  const cv = (ref: any, top: number, h: number) => (
    <canvas
      ref={ref}
      width={943}
      height={h}
      style={{ position: "absolute", left: 0, top, width: 943, height: h, display: "block" }}
    />
  );

  return (
    <div style={{ position: "absolute", left: 0, top: 0, width: 943, height: 626, background: "#ffffff", overflow: "hidden" }}>
      {cv(baseRef, 0, 626)}
      {cv(nh4Ref, 38, 156)}
      {cv(naRef, 174, 156)}
      {cv(caRef, 310, 155)}
      {cv(resRef, 445, 155)}
    </div>
  );
}
